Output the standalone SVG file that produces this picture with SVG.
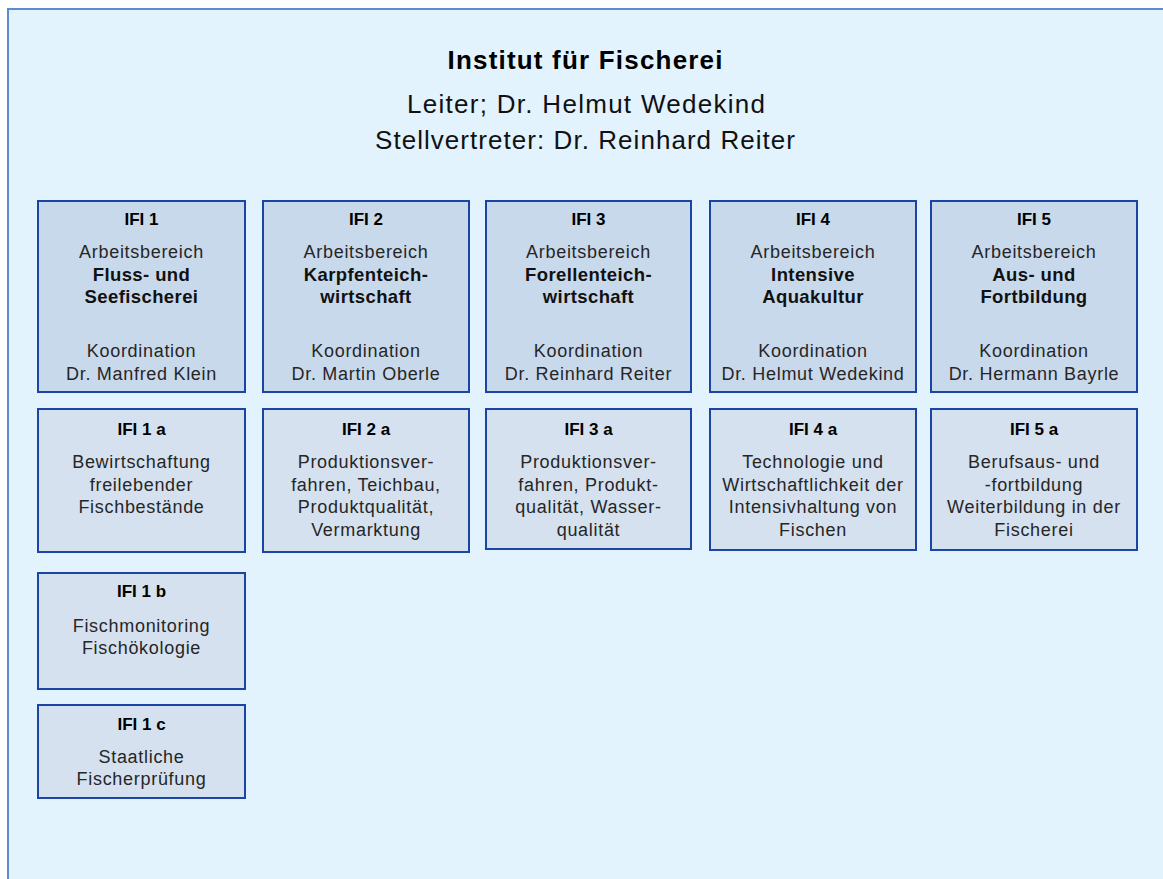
<svg xmlns="http://www.w3.org/2000/svg" width="1163" height="879" viewBox="0 0 1163 879">
<style>
.bg{fill:#E2F3FE;stroke:#5B8BD0;stroke-width:2}
.b1{fill:#C9D9EC;stroke:#1A45A5;stroke-width:2}
.b2{fill:#D5E1EF;stroke:#1A45A5;stroke-width:2}
text{font-family:"Liberation Sans",Arial,sans-serif;text-anchor:middle;fill:#1a1a1a}
.h{font-weight:bold;font-size:17px;fill:#000}
.r{font-size:18px;letter-spacing:0.7px;fill:#262626}
.bd{font-weight:bold;font-size:18.5px;letter-spacing:0.4px;fill:#111}
.t{font-weight:bold;font-size:26px;fill:#000}
.s{font-size:26px;fill:#111}
</style>
<rect class="bg" x="8" y="9" width="1200" height="900"/>
<g id="title">
<text class="t" x="585" y="69" textLength="275" lengthAdjust="spacing">Institut für Fischerei</text>
<text class="s" x="586" y="113" textLength="358" lengthAdjust="spacing">Leiter; Dr. Helmut Wedekind</text>
<text class="s" x="585" y="149" textLength="420" lengthAdjust="spacing">Stellvertreter: Dr. Reinhard Reiter</text>
</g>
<g id="connectors"></g>
<g id="ifi1">
<rect class="b1" x="38" y="201" width="207" height="191"/>
<text class="h" x="141.5" y="225">IFI 1</text>
<text class="r" x="141.5" y="258">Arbeitsbereich</text>
<text class="bd" x="141.5" y="281">Fluss- und</text>
<text class="bd" x="141.5" y="303">Seefischerei</text>
<text class="r" x="141.5" y="357">Koordination</text>
<text class="r" x="141.5" y="380">Dr. Manfred Klein</text>
</g>
<g id="ifi2">
<rect class="b1" x="263" y="201" width="206" height="191"/>
<text class="h" x="366" y="225">IFI 2</text>
<text class="r" x="366" y="258">Arbeitsbereich</text>
<text class="bd" x="366" y="281">Karpfenteich-</text>
<text class="bd" x="366" y="303">wirtschaft</text>
<text class="r" x="366" y="357">Koordination</text>
<text class="r" x="366" y="380">Dr. Martin Oberle</text>
</g>
<g id="ifi3">
<rect class="b1" x="486" y="201" width="205" height="191"/>
<text class="h" x="588.5" y="225">IFI 3</text>
<text class="r" x="588.5" y="258">Arbeitsbereich</text>
<text class="bd" x="588.5" y="281">Forellenteich-</text>
<text class="bd" x="588.5" y="303">wirtschaft</text>
<text class="r" x="588.5" y="357">Koordination</text>
<text class="r" x="588.5" y="380">Dr. Reinhard Reiter</text>
</g>
<g id="ifi4">
<rect class="b1" x="710" y="201" width="206" height="191"/>
<text class="h" x="813" y="225">IFI 4</text>
<text class="r" x="813" y="258">Arbeitsbereich</text>
<text class="bd" x="813" y="281">Intensive</text>
<text class="bd" x="813" y="303">Aquakultur</text>
<text class="r" x="813" y="357">Koordination</text>
<text class="r" x="813" y="380">Dr. Helmut Wedekind</text>
</g>
<g id="ifi5">
<rect class="b1" x="931" y="201" width="206" height="191"/>
<text class="h" x="1034" y="225">IFI 5</text>
<text class="r" x="1034" y="258">Arbeitsbereich</text>
<text class="bd" x="1034" y="281">Aus- und</text>
<text class="bd" x="1034" y="303">Fortbildung</text>
<text class="r" x="1034" y="357">Koordination</text>
<text class="r" x="1034" y="380">Dr. Hermann Bayrle</text>
</g>
<g id="ifi1a">
<rect class="b2" x="38" y="409" width="207" height="143"/>
<text class="h" x="141.5" y="435">IFI 1 a</text>
<text class="r" x="141.5" y="468">Bewirtschaftung</text>
<text class="r" x="141.5" y="491">freilebender</text>
<text class="r" x="141.5" y="513">Fischbestände</text>
</g>
<g id="ifi2a">
<rect class="b2" x="263" y="409" width="206" height="143"/>
<text class="h" x="366" y="435">IFI 2 a</text>
<text class="r" x="366" y="468">Produktionsver-</text>
<text class="r" x="366" y="491">fahren, Teichbau,</text>
<text class="r" x="366" y="513">Produktqualität,</text>
<text class="r" x="366" y="536">Vermarktung</text>
</g>
<g id="ifi3a">
<rect class="b2" x="486" y="409" width="205" height="140"/>
<text class="h" x="588.5" y="435">IFI 3 a</text>
<text class="r" x="588.5" y="468">Produktionsver-</text>
<text class="r" x="588.5" y="491">fahren, Produkt-</text>
<text class="r" x="588.5" y="513">qualität, Wasser-</text>
<text class="r" x="588.5" y="536">qualität</text>
</g>
<g id="ifi4a">
<rect class="b2" x="710" y="409" width="206" height="141"/>
<text class="h" x="813" y="435">IFI 4 a</text>
<text class="r" x="813" y="468">Technologie und</text>
<text class="r" x="813" y="491">Wirtschaftlichkeit der</text>
<text class="r" x="813" y="513">Intensivhaltung von</text>
<text class="r" x="813" y="536">Fischen</text>
</g>
<g id="ifi5a">
<rect class="b2" x="931" y="409" width="206" height="141"/>
<text class="h" x="1034" y="435">IFI 5 a</text>
<text class="r" x="1034" y="468">Berufsaus- und</text>
<text class="r" x="1034" y="491">-fortbildung</text>
<text class="r" x="1034" y="513">Weiterbildung in der</text>
<text class="r" x="1034" y="536">Fischerei</text>
</g>
<g id="ifi1b">
<rect class="b2" x="38" y="573" width="207" height="116"/>
<text class="h" x="141.5" y="597">IFI 1 b</text>
<text class="r" x="141.5" y="632">Fischmonitoring</text>
<text class="r" x="141.5" y="654">Fischökologie</text>
</g>
<g id="ifi1c">
<rect class="b2" x="38" y="705" width="207" height="93"/>
<text class="h" x="141.5" y="730">IFI 1 c</text>
<text class="r" x="141.5" y="763">Staatliche</text>
<text class="r" x="141.5" y="785">Fischerprüfung</text>
</g>
</svg>
